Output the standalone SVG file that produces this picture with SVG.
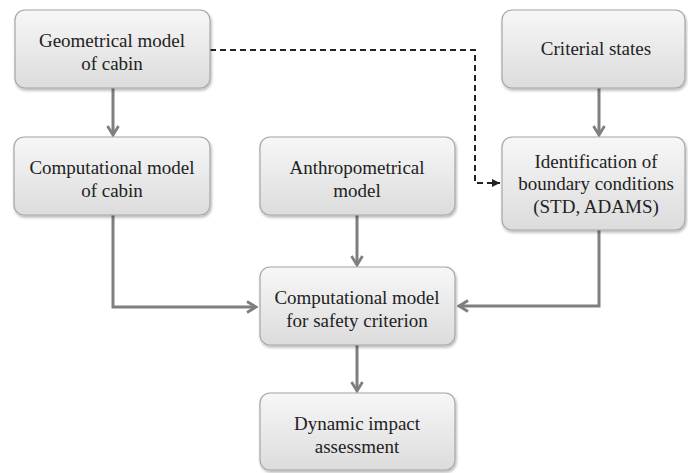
<svg xmlns="http://www.w3.org/2000/svg" width="688" height="473" viewBox="0 0 688 473">
<defs>
<linearGradient id="g" x1="0" y1="0" x2="0" y2="1">
<stop offset="0" stop-color="#f7f7f7"/>
<stop offset="1" stop-color="#dcdcdc"/>
</linearGradient>
<filter id="sh" x="-10%" y="-10%" width="125%" height="130%">
<feGaussianBlur in="SourceAlpha" stdDeviation="1.5"/>
<feOffset dx="1" dy="2" result="b"/>
<feComponentTransfer><feFuncA type="linear" slope="0.3"/></feComponentTransfer>
<feMerge><feMergeNode/><feMergeNode in="SourceGraphic"/></feMerge>
</filter>
<marker id="ga" viewBox="0 0 14 14" refX="12" refY="7" markerWidth="14" markerHeight="14" markerUnits="userSpaceOnUse" orient="auto">
<polyline points="3,1.5 12,7 3,12.5" fill="none" stroke="#7f7f7f" stroke-width="2.8"/>
</marker>
<marker id="da" viewBox="0 0 10 10" refX="9" refY="5" markerWidth="10" markerHeight="10" markerUnits="userSpaceOnUse" orient="auto">
<path d="M1,1 L9,5 L1,9 Z" fill="#222"/>
</marker>
</defs>
<style>
.box{fill:url(#g);stroke:#a6a6a6;stroke-width:1.2;filter:url(#sh)}
.t{font-family:'Liberation Serif','Times New Roman',serif;font-size:19px;fill:#222;text-anchor:middle}
.c{fill:none;stroke:#7f7f7f;stroke-width:3}
.d{fill:none;stroke:#222;stroke-width:2;stroke-dasharray:6,4}
</style>
<g id="connectors">
<line class="c" x1="113" y1="88" x2="113" y2="135" marker-end="url(#ga)"/>
<polyline class="c" points="113,215 113,307 256,307" marker-end="url(#ga)"/>
<line class="c" x1="357" y1="215" x2="357" y2="265" marker-end="url(#ga)"/>
<polyline class="c" points="599,230 599,306 459,306" marker-end="url(#ga)"/>
<line class="c" x1="599" y1="88" x2="599" y2="135" marker-end="url(#ga)"/>
<line class="c" x1="357" y1="345" x2="357" y2="391" marker-end="url(#ga)"/>
<polyline class="d" points="210,50 475,50 475,183 500,183" marker-end="url(#da)"/>
</g>
<g id="geom">
<rect class="box" x="15" y="10" width="195" height="78" rx="10"/>
<text class="t" x="112" y="47">Geometrical model</text>
<text class="t" x="112" y="70">of cabin</text>
</g>
<g id="compcabin">
<rect class="box" x="14" y="137" width="196" height="78" rx="10"/>
<text class="t" x="112" y="174">Computational model</text>
<text class="t" x="112" y="197">of cabin</text>
</g>
<g id="anthro">
<rect class="box" x="260" y="137" width="195" height="78" rx="10"/>
<text class="t" x="357" y="174">Anthropometrical</text>
<text class="t" x="357" y="197">model</text>
</g>
<g id="criterial">
<rect class="box" x="502" y="10" width="183" height="78" rx="10"/>
<text class="t" x="596" y="55">Criterial states</text>
</g>
<g id="ident">
<rect class="box" x="502" y="137" width="183" height="93" rx="10"/>
<text class="t" x="596" y="168">Identification of</text>
<text class="t" x="596" y="190">boundary conditions</text>
<text class="t" x="596" y="213">(STD, ADAMS)</text>
</g>
<g id="safety">
<rect class="box" x="260" y="267" width="195" height="78" rx="10"/>
<text class="t" x="357" y="304">Computational model</text>
<text class="t" x="357" y="327">for safety criterion</text>
</g>
<g id="dynamic">
<rect class="box" x="260" y="393" width="195" height="77" rx="10"/>
<text class="t" x="357" y="430">Dynamic impact</text>
<text class="t" x="357" y="453">assessment</text>
</g>
</svg>
